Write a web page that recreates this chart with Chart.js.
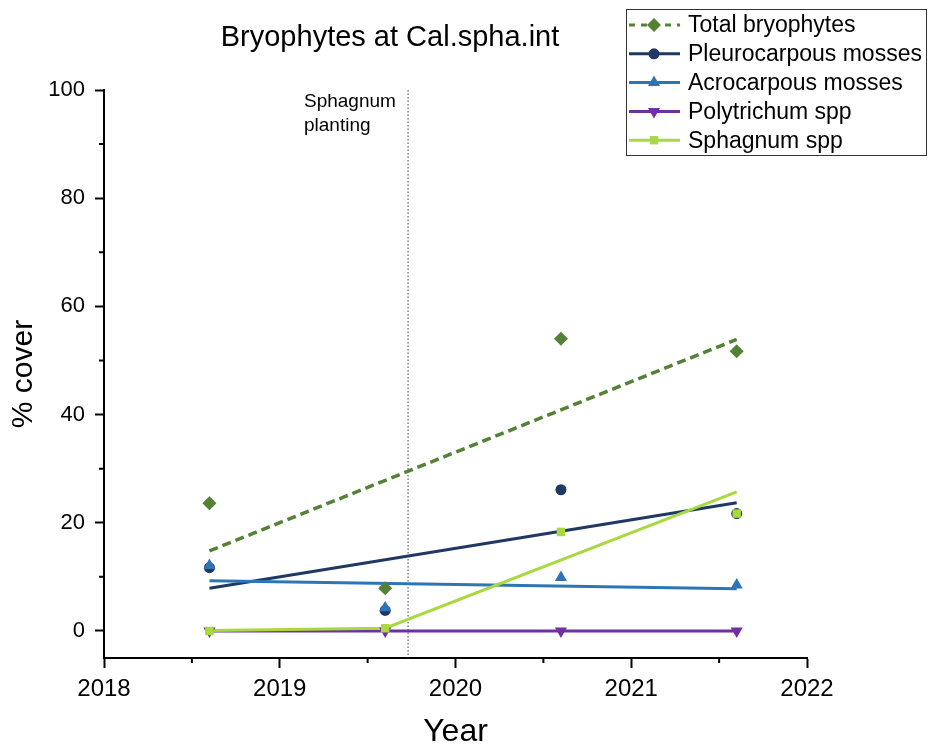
<!DOCTYPE html>
<html>
<head>
<meta charset="utf-8">
<script src="https://cdn.jsdelivr.net/npm/chart.js@4/dist/chart.umd.min.js"></script>
<style>
  html, body { margin: 0; padding: 0; background: #fff; }
  #wrap { width: 928px; height: 747px; position: relative; }
</style>
</head>
<body>
<div id="wrap"><canvas id="chart"></canvas></div>
<script>
// survey years (sampling dates)
const years = [2018.6, 2019.6, 2020.6, 2021.6];

// % cover per group
const total = [23.6, 7.9, 54.0, 51.7];
const pleuro = [11.7, 3.8, 26.1, 21.7];
const acro = [12.1, 4.3, 9.9, 8.5];
const polytrichum = [0, 0, 0, 0];
const sphagnum = [0, 0.5, 18.3, 21.7];

// fitted trend lines (x, y)
const totalTrendX = [2018.6, 2021.6];
const totalTrendY = [14.8, 53.9];
const pleuroTrendX = [2018.6, 2021.6];
const pleuroTrendY = [7.9, 23.7];
const acroTrendX = [2018.6, 2021.6];
const acroTrendY = [9.3, 7.8];
const polyTrendX = [2018.6, 2021.6];
const polyTrendY = [0, 0];
const sphagTrendX = [2018.6, 2019.6, 2021.6];
const sphagTrendY = [0.1, 0.5, 25.7];

const plantingYear = 2019.73;
const xTicks = [2018, 2019, 2020, 2021, 2022];
const yTicks = [0, 20, 40, 60, 80, 100];

const FONT = 'Arial, "Liberation Sans", sans-serif';

const series = [
  { label: 'Total bryophytes', pts: total, tx: totalTrendX, ty: totalTrendY, color: '#538135', style: 'rectRot', radius: 7, dash: [9, 5], width: 3.5 },
  { label: 'Pleurocarpous mosses', pts: pleuro, tx: pleuroTrendX, ty: pleuroTrendY, color: '#1f3864', style: 'circle', radius: 5.5, dash: [], width: 3 },
  { label: 'Acrocarpous mosses', pts: acro, tx: acroTrendX, ty: acroTrendY, color: '#2e75b6', style: 'triangle', radius: 7, dash: [], width: 3 },
  { label: 'Polytrichum spp', pts: polytrichum, tx: polyTrendX, ty: polyTrendY, color: '#7030a0', style: 'triangle', rotation: 180, radius: 7, dash: [], width: 3 },
  { label: 'Sphagnum spp', pts: sphagnum, tx: sphagTrendX, ty: sphagTrendY, color: '#a9d940', style: 'rect', radius: 6, dash: [], width: 3 },
];

const zip = (xs, ys) => xs.map((x, i) => ({ x, y: ys[i] }));

// lower order is drawn on top: later series sit above earlier ones
const datasets = [];
series.forEach((s, i) => {
  datasets.push({
    label: s.label + ' trend',
    data: zip(s.tx, s.ty),
    showLine: true,
    borderColor: s.color,
    borderWidth: s.width,
    borderDash: s.dash,
    pointRadius: 0,
    order: 20 - i,
  });
});
series.forEach((s, i) => {
  datasets.push({
    label: s.label,
    data: zip(years, s.pts),
    showLine: false,
    backgroundColor: s.color,
    borderColor: s.color,
    borderWidth: 0,
    pointStyle: s.style,
    pointRotation: s.rotation || 0,
    pointRadius: s.radius,
    order: 10 - i,
  });
});

// title, planting marker, minor ticks and legend
const decor = {
  id: 'decor',
  beforeDatasetsDraw(chart) {
    const { ctx, chartArea, scales } = chart;
    const x = scales.x.getPixelForValue(plantingYear);
    ctx.save();
    ctx.strokeStyle = '#444';
    ctx.lineWidth = 1;
    ctx.setLineDash([1.5, 2]);
    ctx.beginPath();
    ctx.moveTo(x, chartArea.top);
    ctx.lineTo(x, chartArea.bottom);
    ctx.stroke();
    ctx.setLineDash([]);
    ctx.fillStyle = '#000';
    ctx.font = '19px ' + FONT;
    ctx.textAlign = 'left';
    ctx.textBaseline = 'middle';
    ctx.fillText('Sphagnum', 304, 102);
    ctx.fillText('planting', 304, 126);
    ctx.restore();
  },
  afterDraw(chart) {
    const { ctx, chartArea, scales } = chart;
    ctx.save();
    // minor ticks
    ctx.strokeStyle = '#000';
    ctx.lineWidth = 2;
    ctx.beginPath();
    for (let v = 10; v < 100; v += 20) {
      const y = scales.y.getPixelForValue(v);
      ctx.moveTo(chartArea.left, y);
      ctx.lineTo(chartArea.left - 5, y);
    }
    for (let v = 2018.5; v < 2022; v += 1) {
      const x = scales.x.getPixelForValue(v);
      ctx.moveTo(x, chartArea.bottom);
      ctx.lineTo(x, chartArea.bottom + 5);
    }
    ctx.stroke();

    // title
    ctx.fillStyle = '#000';
    ctx.font = '29px ' + FONT;
    ctx.textAlign = 'center';
    ctx.textBaseline = 'middle';
    ctx.fillText('Bryophytes at Cal.spha.int', 390, 38);

    // legend
    const lx = 626, ly = 9, lw = 300, lh = 146;
    ctx.fillStyle = '#fff';
    ctx.fillRect(lx, ly, lw, lh);
    ctx.strokeStyle = '#333';
    ctx.lineWidth = 1;
    ctx.strokeRect(lx + 0.5, ly + 0.5, lw, lh);
    series.forEach((s, i) => {
      const cy = 25 + i * 28.8;
      ctx.strokeStyle = s.color;
      ctx.lineWidth = 3;
      ctx.setLineDash(s.dash.length ? [6, 6] : []);
      ctx.beginPath();
      ctx.moveTo(629, cy);
      ctx.lineTo(680, cy);
      ctx.stroke();
      ctx.setLineDash([]);
      ctx.fillStyle = s.color;
      Chart.helpers.drawPoint(ctx, {
        pointStyle: s.style,
        rotation: s.rotation || 0,
        radius: s.radius,
        borderWidth: 0,
      }, 654, cy);
      ctx.fillStyle = '#000';
      ctx.font = '23px ' + FONT;
      ctx.textAlign = 'left';
      ctx.fillText(s.label, 688, cy + 1);
    });
    ctx.restore();
  },
};

new Chart(document.getElementById('chart'), {
  type: 'scatter',
  data: { datasets },
  options: {
    responsive: true,
    maintainAspectRatio: false,
    animation: false,
    layout: { padding: { left: 0, right: 121, top: 90, bottom: 0 } },
    plugins: {
      legend: { display: false },
      tooltip: { enabled: false },
    },
    scales: {
      x: {
        type: 'linear',
        min: 2018,
        max: 2022,
        afterBuildTicks: (scale) => {
          scale.ticks = xTicks.map((v) => ({ value: v }));
        },
        afterFit: (scale) => { scale.height = 89; },
        grid: { display: true, drawOnChartArea: false, drawTicks: true, tickLength: 10, tickWidth: 2, tickColor: '#000' },
        border: { display: true, color: '#000', width: 2 },
        ticks: {
          color: '#000',
          font: { family: FONT, size: 24 },
          padding: 7,
          maxRotation: 0,
          callback: (v) => String(v),
        },
        title: {
          display: true,
          text: 'Year',
          color: '#000',
          font: { family: FONT, size: 32, lineHeight: 0.95 },
          padding: { top: 0, bottom: 0 },
        },
      },
      y: {
        min: -5,
        max: 100,
        afterBuildTicks: (scale) => {
          scale.ticks = yTicks.map((v) => ({ value: v }));
        },
        afterFit: (scale) => { scale.width = 104; },
        grid: { display: true, drawOnChartArea: false, drawTicks: true, tickLength: 9, tickWidth: 2, tickColor: '#000' },
        border: { display: true, color: '#000', width: 2 },
        ticks: {
          color: '#000',
          font: { family: FONT, size: 22 },
          padding: 10,
        },
        title: {
          display: true,
          text: '% cover',
          color: '#000',
          font: { family: FONT, size: 30 },
          padding: { top: 6, bottom: 0 },
        },
      },
    },
  },
  plugins: [decor],
});
</script>
</body>
</html>
